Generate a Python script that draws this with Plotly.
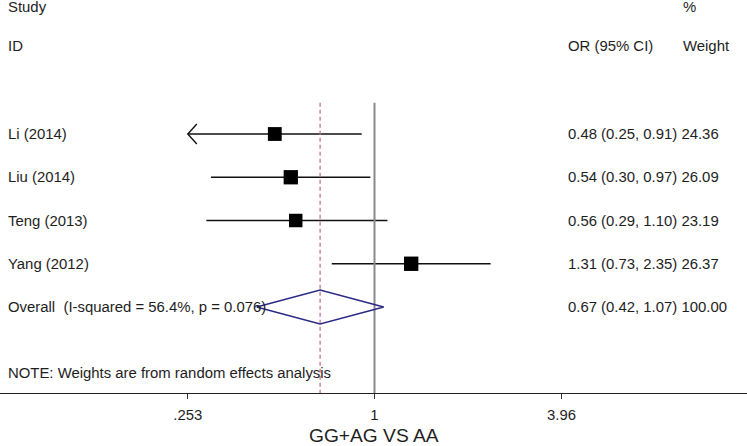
import numpy as np
import plotly.graph_objects as go

studies = ["Li (2014)", "Liu (2014)", "Teng (2013)", "Yang (2012)"]
or_vals = [0.48, 0.54, 0.56, 1.31]
ci_low = [0.25, 0.30, 0.29, 0.73]
ci_high = [0.91, 0.97, 1.10, 2.35]
weights = [24.36, 26.09, 23.19, 26.37]

overall_label = "Overall  (I-squared = 56.4%, p = 0.076)"
overall_or = 0.67
overall_low = 0.42
overall_high = 1.07
overall_weight = 100.00

tick_vals = [0.253, 1, 3.96]
tick_text = [".253", "1", "3.96"]
axis_title = "GG+AG VS AA"
note = "NOTE: Weights are from random effects analysis"

x_min_clip = 0.253  # left clip of the plotted CI range

FONT = "Liberation Sans, Arial, Helvetica, sans-serif"
FS = 14.9
TXT = "#1e1e1e"

fig = go.Figure()

rows = list(range(len(studies)))
overall_row = len(studies)

# CI lines
for i, (lo, hi) in enumerate(zip(ci_low, ci_high)):
    lo_c = max(lo, x_min_clip)
    fig.add_trace(go.Scatter(x=[lo_c, hi], y=[i, i], mode="lines",
                             line=dict(color="#111111", width=1.4),
                             showlegend=False, hoverinfo="skip"))
    if lo < x_min_clip:
        f = 10 ** (9 / 312.8)
        fig.add_trace(go.Scatter(x=[lo_c * f, lo_c, lo_c * f],
                                 y=[i - 0.23, i, i + 0.23], mode="lines",
                                 line=dict(color="#111111", width=1.4),
                                 showlegend=False, hoverinfo="skip"))

# null line at 1
fig.add_trace(go.Scatter(x=[1, 1], y=[-0.72, 6.5], mode="lines",
                         line=dict(color="#8a8a8a", width=2),
                         showlegend=False, hoverinfo="skip"))
# overall dashed line
fig.add_trace(go.Scatter(x=[overall_or, overall_or], y=[-0.72, 6.5], mode="lines",
                         line=dict(color="#c8748a", width=1.3, dash="4px,3px"),
                         showlegend=False, hoverinfo="skip"))

# squares
fig.add_trace(go.Scatter(x=or_vals, y=rows, mode="markers",
                         marker=dict(symbol="square", color="#000000", opacity=1,
                                     size=[14 * np.sqrt(w / 25) for w in weights],
                                     line=dict(width=0)),
                         showlegend=False, hoverinfo="skip"))

# diamond
h = 0.393
fig.add_trace(go.Scatter(x=[overall_low, overall_or, overall_high, overall_or, overall_low],
                         y=[overall_row, overall_row - h, overall_row, overall_row + h, overall_row],
                         mode="lines", line=dict(color="#2a2a85", width=1.4),
                         showlegend=False, hoverinfo="skip"))

def txt(x, y, s, xanchor="left", size=FS, xref="paper"):
    fig.add_annotation(x=x, y=y, xref=xref, yref="y", text=s, showarrow=False,
                       xanchor=xanchor, yanchor="middle",
                       font=dict(family=FONT, size=size, color=TXT))

X_LEFT = 6 / 747
X_OR = 566 / 747
X_W = 681 / 747

txt(X_LEFT, -2.94, "Study")
txt(X_W, -2.94, "%")
txt(X_LEFT, -2.03, "ID")
txt(X_OR, -2.03, "OR (95% CI)")
txt(X_W, -2.03, "Weight")

for i, s in enumerate(studies):
    txt(X_LEFT, i, s)
    txt(X_OR, i, f"{or_vals[i]:.2f} ({ci_low[i]:.2f}, {ci_high[i]:.2f}) {weights[i]:.2f}")

txt(X_LEFT, overall_row, overall_label)
txt(X_OR, overall_row, f"{overall_or:.2f} ({overall_low:.2f}, {overall_high:.2f}) {overall_weight:.2f}")
txt(X_LEFT, 5.52, note)

# axis title as annotation below the axis
fig.add_annotation(x=374 / 747, y=(393 - 436) / 393, xref="paper", yref="paper",
                   text=axis_title, showarrow=False, xanchor="center", yanchor="middle",
                   font=dict(family=FONT, size=19.2, color=TXT))

ppd = 312.8
x0 = 374.5
fig.update_xaxes(type="log", range=[-x0 / ppd, (747 - x0) / ppd],
                 tickvals=tick_vals, ticktext=tick_text,
                 ticks="outside", ticklen=5, tickcolor="#333333", tickwidth=1,
                 ticklabelstandoff=3,
                 showline=True, linecolor="#222222", linewidth=1.3,
                 showgrid=False, zeroline=False,
                 tickfont=dict(family=FONT, size=FS, color=TXT))
fig.update_yaxes(range=[259 / 43.25, -134 / 43.25], visible=False,
                 showgrid=False, zeroline=False)

fig.update_layout(width=747, height=446,
                  margin=dict(l=0, r=0, t=0, b=53, autoexpand=False),
                  plot_bgcolor="white", paper_bgcolor="white",
                  showlegend=False)

fig.write_html("out.html", config={"displayModeBar": False},
               post_script="document.body.style.margin='0';")
